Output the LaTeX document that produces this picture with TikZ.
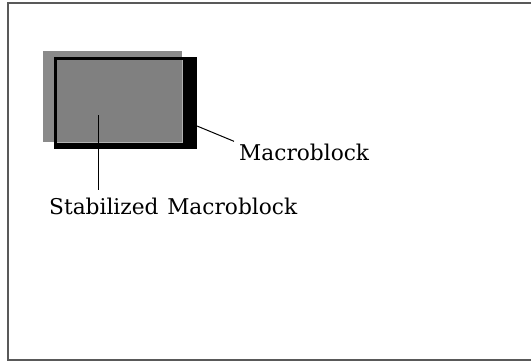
\documentclass[tikz,border=0pt]{standalone}
\usepackage{fontspec}
\setmainfont{DejaVu Serif}
\usepackage{tikz}

\begin{document}
\begin{tikzpicture}[x=1pt,y=-1pt,
    lbl/.style={font=\fontsize{21.7}{26}\selectfont, inner sep=0pt}]
    \useasboundingbox (0,0) rectangle (531,364);

    % Frame, open on the right
    \draw[line width=2pt,black!65] (531,3) -- (8,3) -- (8,360) -- (531,360);

    % Stabilized block behind, macroblock in front
    \fill[black!46] (43,51) rectangle (182,142);
    \fill[black] (54,57) rectangle (197,149);
    \fill[black!50] (57,60) rectangle (182,142);
    \draw[black!30] (182,60) -- (182,142) -- (57,142);

    % Labels
    \node[lbl,anchor=base west] (mb) at (239,160) {Macroblock};
    \node[lbl,anchor=base west] (smb) at (49,214) {Stabilized\hspace{0.4em}Macroblock};

    % Leader lines
    \coordinate (mbpt) at (197,126);
    \coordinate (smbpt) at (98,115);
    \draw[line width=1pt] (mbpt) -- ([xshift=-5pt,yshift=2pt]mb.north west);
    \draw[line width=1pt] (smbpt) -- ([yshift=7pt]smbpt |- smb.north);
\end{tikzpicture}
\end{document}
